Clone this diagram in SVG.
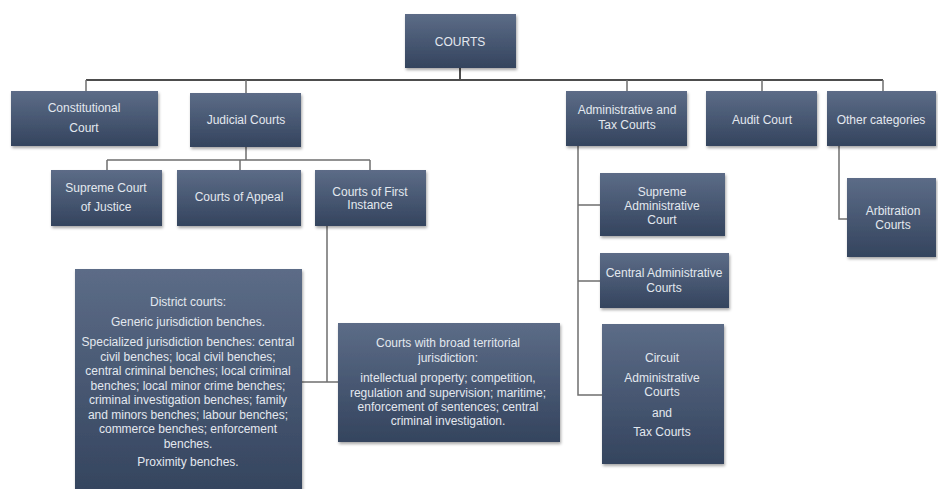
<svg xmlns="http://www.w3.org/2000/svg" width="938" height="489" viewBox="0 0 938 489">
  <style>
    .box { fill: url(#boxGrad); filter: url(#shadow); }
    .lbl { font-family: "Liberation Sans", Arial, sans-serif; font-size: 11px; fill: #e3e8ef; text-anchor: middle; }
    .big { font-size: 12px; }
    .para { font-size: 12px; }
    .wire { fill: none; stroke: #6f6f6f; stroke-width: 1.5; }
    .trunk { fill: none; stroke: #4d4d4d; stroke-width: 2; }
  </style>
  <defs>
    <linearGradient id="boxGrad" x1="0" y1="0" x2="0" y2="1">
      <stop offset="0" stop-color="#5c6c87"/>
      <stop offset="1" stop-color="#34445e"/>
    </linearGradient>
    <filter id="shadow" x="-10%" y="-10%" width="125%" height="130%">
      <feDropShadow dx="1" dy="2" stdDeviation="1.5" flood-color="#000" flood-opacity="0.35"/>
    </filter>
  </defs>
  <rect width="938" height="489" fill="#ffffff"/>

  <!-- connectors -->
  <g id="connectors">
    <path class="trunk" d="M460 68 V80 M86 80 H883"/>
    <path class="wire" d="M86 80 V91 M246 80 V93 M627 80 V91 M762 80 V91 M883 80 V91"/>
    <path class="wire" d="M246 147 V160 M107 160 H370 M107 160 V170 M240 160 V170 M370 160 V170"/>
    <path class="wire" d="M327 226 V382 M302 382 H338"/>
    <path class="wire" d="M578 146 V395 H602 M578 205 H600 M578 281 H600"/>
    <path class="wire" d="M839 146 V219 H847"/>
  </g>

  <g id="courts">
    <rect class="box" x="405" y="14" width="111" height="54"/>
    <text class="lbl big" x="460" y="46">COURTS</text>
  </g>

  <g id="constitutional">
    <rect class="box" x="11" y="91" width="147" height="55"/>
    <text class="lbl big" x="84" y="112">Constitutional</text>
    <text class="lbl big" x="84" y="132">Court</text>
  </g>

  <g id="judicial">
    <rect class="box" x="190" y="93" width="111" height="54"/>
    <text class="lbl big" x="246" y="124">Judicial Courts</text>
  </g>

  <g id="admin-tax">
    <rect class="box" x="566" y="91" width="121" height="55"/>
    <text class="lbl big" x="627" y="114">Administrative and</text>
    <text class="lbl big" x="627" y="129">Tax Courts</text>
  </g>

  <g id="audit">
    <rect class="box" x="706" y="91" width="111" height="55"/>
    <text class="lbl big" x="762" y="124">Audit Court</text>
  </g>

  <g id="other">
    <rect class="box" x="827" y="91" width="109" height="55"/>
    <text class="lbl big" x="881" y="124">Other categories</text>
  </g>

  <g id="supreme-justice">
    <rect class="box" x="51" y="170" width="111" height="56"/>
    <text class="lbl big" x="106" y="192">Supreme Court</text>
    <text class="lbl big" x="106" y="211">of Justice</text>
  </g>

  <g id="appeal">
    <rect class="box" x="177" y="170" width="124" height="56"/>
    <text class="lbl big" x="239" y="201">Courts of Appeal</text>
  </g>

  <g id="first-instance">
    <rect class="box" x="315" y="170" width="111" height="56"/>
    <text class="lbl big" x="370" y="196">Courts of First</text>
    <text class="lbl big" x="370" y="209">Instance</text>
  </g>

  <g id="district">
    <rect class="box" x="75" y="269" width="227" height="225"/>
    <text class="lbl para" x="188" y="306">District courts:</text>
    <text class="lbl para" x="188" y="326">Generic jurisdiction benches.</text>
    <text class="lbl para" x="188" y="346">Specialized jurisdiction benches: central</text>
    <text class="lbl para" x="188" y="360.5">civil benches; local civil benches;</text>
    <text class="lbl para" x="188" y="375">central criminal benches; local criminal</text>
    <text class="lbl para" x="188" y="389.5">benches; local minor crime benches;</text>
    <text class="lbl para" x="188" y="404">criminal investigation benches; family</text>
    <text class="lbl para" x="188" y="418.5">and minors benches; labour benches;</text>
    <text class="lbl para" x="188" y="433">commerce benches; enforcement</text>
    <text class="lbl para" x="188" y="447.5">benches.</text>
    <text class="lbl para" x="188" y="466">Proximity benches.</text>
  </g>

  <g id="broad-territorial">
    <rect class="box" x="338" y="323" width="222" height="119"/>
    <text class="lbl para" x="448" y="347">Courts with broad territorial</text>
    <text class="lbl para" x="448" y="362">jurisdiction:</text>
    <text class="lbl para" x="448" y="382">intellectual property; competition,</text>
    <text class="lbl para" x="448" y="397">regulation and supervision; maritime;</text>
    <text class="lbl para" x="448" y="411">enforcement of sentences; central</text>
    <text class="lbl para" x="448" y="425">criminal investigation.</text>
  </g>

  <g id="supreme-admin">
    <rect class="box" x="600" y="173" width="125" height="63"/>
    <text class="lbl big" x="662" y="196">Supreme</text>
    <text class="lbl big" x="662" y="210">Administrative</text>
    <text class="lbl big" x="662" y="224">Court</text>
  </g>

  <g id="central-admin">
    <rect class="box" x="600" y="253" width="129" height="55"/>
    <text class="lbl big" x="664" y="277">Central Administrative</text>
    <text class="lbl big" x="664" y="292">Courts</text>
  </g>

  <g id="circuit">
    <rect class="box" x="602" y="324" width="122" height="140"/>
    <text class="lbl big" x="662" y="362">Circuit</text>
    <text class="lbl big" x="662" y="382">Administrative</text>
    <text class="lbl big" x="662" y="396">Courts</text>
    <text class="lbl big" x="662" y="417">and</text>
    <text class="lbl big" x="662" y="436">Tax Courts</text>
  </g>

  <g id="arbitration">
    <rect class="box" x="847" y="178" width="89" height="79"/>
    <text class="lbl big" x="893" y="215">Arbitration</text>
    <text class="lbl big" x="893" y="229">Courts</text>
  </g>
</svg>
